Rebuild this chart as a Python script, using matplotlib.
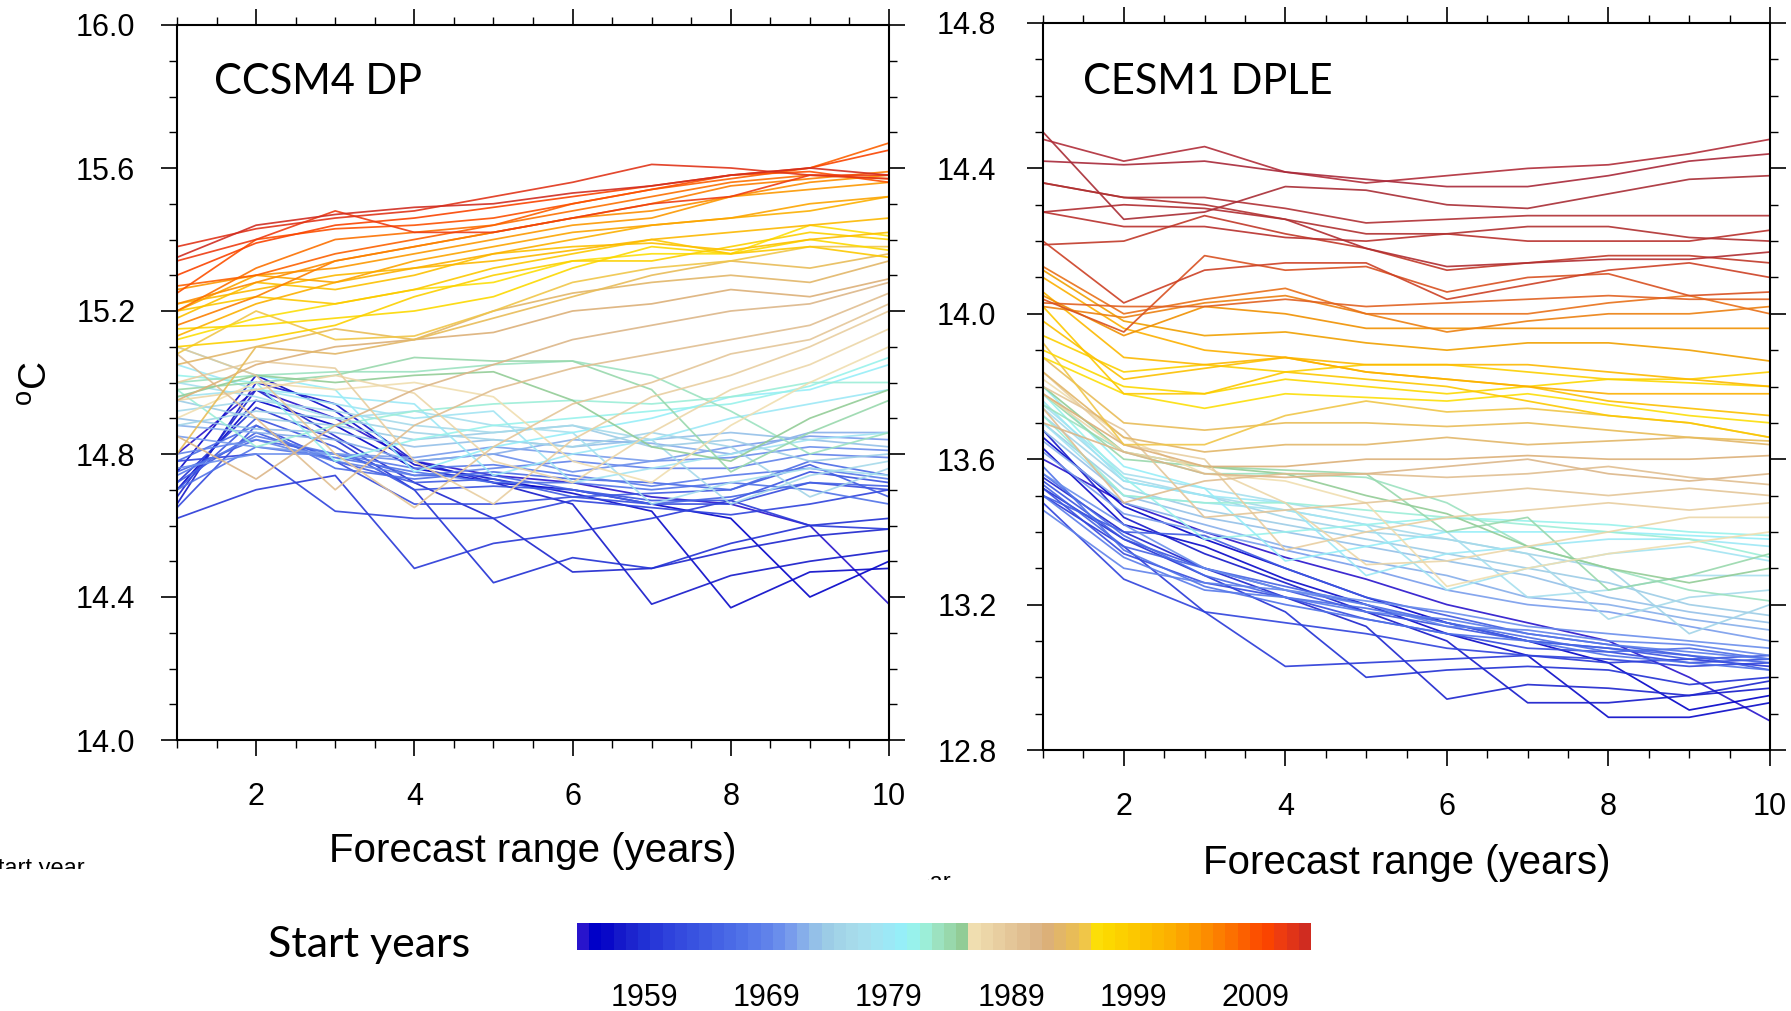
import matplotlib
matplotlib.use("Agg")
import matplotlib.pyplot as plt
import numpy as np
from matplotlib.colors import ListedColormap, BoundaryNorm
from matplotlib.cm import ScalarMappable
from matplotlib.transforms import Bbox, TransformedBbox

# ---------------- data ----------------
leads = [1, 2, 3, 4, 5, 6, 7, 8, 9, 10]

years_dp = list(range(1954, 2014))      # CCSM4 DP start years
years_dple = list(range(1954, 2018))    # CESM1 DPLE start years
cbar_years = list(range(1954, 2014))
cbar_labels = [1959, 1969, 1979, 1989, 1999, 2009]

year_colors = [
    "#2814cc", "#0000c8", "#0808c8", "#1418ca", "#1c24ce", "#2030d4", "#2838d8",
    "#2e42dc", "#344ade", "#3852e0", "#3e5ae2", "#4462e4", "#4a6ae6", "#5072e8",
    "#587aea", "#6082ea", "#6a8eec", "#789cec", "#86aeea", "#94c0e8", "#9ccce6",
    "#a2d4e8", "#a6daea", "#a6dfee", "#a2e4f2", "#9ce8f6", "#96eef8", "#98f2ec",
    "#9ceed8", "#9ce2c0", "#98d8ac", "#92cc96", "#f0deb0", "#ecd6a8", "#e8cea0",
    "#e4c698", "#e0be90", "#dcb688", "#dcb078", "#e2b668", "#e8bc58", "#f0c648",
    "#fcde08", "#fcd800", "#fcd000", "#fcc800", "#fcc000", "#fcb800", "#fcb000",
    "#fca400", "#fc9800", "#fc8c00", "#fc7e00", "#fc7000", "#fc6000", "#fc5000",
    "#fa4400", "#ee3c10", "#e03418", "#d02c20",
]

# line colours of the later CESM1 DPLE start years (2003-2017), darker reds
dple_late_colors = [
    "#f0a000", "#f09000", "#ec8010", "#e87018", "#e06020", "#d85020", "#cc4024",
    "#c03828", "#b8302c", "#b02c30", "#b03034", "#a82c34", "#b02c38", "#a82838",
    "#b03030",
]

ccsm4_dp = [
    [14.80, 14.98, 14.90, 14.78, 14.74, 14.72, 14.68, 14.66, 14.60, 14.38],  # 1954
    [14.70, 14.95, 14.88, 14.76, 14.72, 14.70, 14.66, 14.62, 14.40, 14.50],
    [14.75, 15.02, 14.92, 14.77, 14.73, 14.69, 14.64, 14.37, 14.47, 14.48],
    [14.66, 15.00, 14.94, 14.78, 14.72, 14.66, 14.38, 14.46, 14.50, 14.53],
    [14.68, 14.98, 14.85, 14.72, 14.62, 14.47, 14.48, 14.53, 14.57, 14.59],
    [14.72, 14.93, 14.84, 14.70, 14.44, 14.51, 14.48, 14.55, 14.60, 14.62],
    [14.62, 14.70, 14.74, 14.48, 14.55, 14.58, 14.62, 14.67, 14.60, 14.59],  # 1960
    [14.78, 14.80, 14.64, 14.62, 14.62, 14.67, 14.65, 14.63, 14.66, 14.70],
    [14.65, 14.88, 14.78, 14.66, 14.66, 14.68, 14.66, 14.66, 14.72, 14.70],
    [14.70, 14.90, 14.82, 14.70, 14.71, 14.70, 14.67, 14.67, 14.75, 14.72],
    [14.72, 14.86, 14.78, 14.72, 14.73, 14.68, 14.69, 14.70, 14.77, 14.68],
    [14.75, 14.84, 14.80, 14.74, 14.74, 14.70, 14.66, 14.68, 14.72, 14.71],
    [14.78, 14.88, 14.76, 14.73, 14.75, 14.73, 14.72, 14.70, 14.78, 14.74],
    [14.70, 14.82, 14.79, 14.75, 14.72, 14.72, 14.70, 14.72, 14.70, 14.66],
    [14.74, 14.85, 14.80, 14.76, 14.77, 14.74, 14.71, 14.74, 14.76, 14.73],
    [14.80, 14.84, 14.78, 14.74, 14.76, 14.78, 14.76, 14.76, 14.80, 14.79],
    [14.76, 14.80, 14.80, 14.78, 14.80, 14.75, 14.78, 14.79, 14.82, 14.81],  # 1970
    [14.85, 14.82, 14.80, 14.79, 14.82, 14.80, 14.78, 14.82, 14.85, 14.84],
    [14.88, 14.86, 14.84, 14.78, 14.80, 14.84, 14.83, 14.80, 14.86, 14.86],
    [14.90, 14.87, 14.86, 14.82, 14.84, 14.82, 14.84, 14.86, 14.84, 14.82],
    [14.95, 14.90, 14.88, 14.84, 14.86, 14.88, 14.82, 14.84, 14.78, 14.80],
    [14.88, 14.92, 14.90, 14.86, 14.84, 14.82, 14.86, 14.82, 14.68, 14.76],
    [14.92, 14.95, 14.92, 14.88, 14.86, 14.88, 14.84, 14.66, 14.74, 14.78],
    [15.00, 14.96, 14.90, 14.92, 14.88, 14.86, 14.66, 14.72, 14.76, 14.74],
    [14.96, 14.98, 14.94, 14.90, 14.92, 14.72, 14.76, 14.80, 14.84, 14.86],
    [15.05, 14.98, 14.96, 14.94, 14.74, 14.80, 14.84, 14.90, 14.94, 14.98],
    [15.10, 15.02, 14.98, 14.75, 14.82, 14.86, 14.90, 14.96, 14.98, 15.05],  # 1980
    [15.02, 15.00, 14.78, 14.84, 14.88, 14.90, 14.92, 14.94, 14.99, 15.07],
    [14.98, 14.82, 14.88, 14.92, 14.94, 14.95, 14.94, 14.96, 15.00, 15.00],
    [15.00, 15.02, 15.03, 15.03, 15.05, 15.06, 15.02, 14.92, 14.80, 14.86],
    [14.98, 15.00, 15.02, 15.07, 15.06, 15.06, 14.98, 14.75, 14.86, 14.95],
    [14.96, 15.02, 15.00, 15.02, 15.03, 14.95, 14.82, 14.78, 14.90, 14.98],
    [14.90, 15.00, 14.98, 15.00, 14.96, 14.78, 14.72, 14.88, 15.00, 15.10],
    [14.95, 14.98, 15.02, 14.97, 14.78, 14.72, 14.86, 14.98, 15.05, 15.15],
    [15.00, 15.06, 15.04, 14.78, 14.66, 14.84, 14.96, 15.02, 15.10, 15.20],
    [15.10, 15.02, 14.80, 14.65, 14.82, 14.94, 15.00, 15.08, 15.12, 15.22],
    [15.08, 14.90, 14.70, 14.88, 14.98, 15.04, 15.08, 15.12, 15.16, 15.25],  # 1990
    [14.85, 14.73, 14.88, 14.98, 15.05, 15.12, 15.16, 15.20, 15.22, 15.28],
    [14.95, 15.05, 15.10, 15.12, 15.14, 15.20, 15.22, 15.26, 15.24, 15.29],
    [15.05, 15.10, 15.08, 15.12, 15.20, 15.25, 15.28, 15.30, 15.28, 15.34],
    [14.80, 15.10, 15.15, 15.12, 15.18, 15.24, 15.30, 15.34, 15.32, 15.36],
    [15.08, 15.20, 15.12, 15.13, 15.20, 15.28, 15.32, 15.34, 15.38, 15.38],
    [15.12, 15.18, 15.22, 15.26, 15.28, 15.34, 15.36, 15.36, 15.44, 15.41],
    [15.15, 15.16, 15.18, 15.20, 15.24, 15.32, 15.38, 15.36, 15.40, 15.37],
    [15.10, 15.12, 15.16, 15.24, 15.30, 15.34, 15.34, 15.38, 15.42, 15.40],
    [15.20, 15.24, 15.22, 15.26, 15.32, 15.36, 15.40, 15.36, 15.38, 15.35],
    [15.18, 15.28, 15.26, 15.30, 15.36, 15.38, 15.39, 15.37, 15.40, 15.42],  # 2000
    [15.22, 15.26, 15.30, 15.32, 15.34, 15.37, 15.40, 15.42, 15.44, 15.46],
    [15.13, 15.22, 15.28, 15.32, 15.36, 15.40, 15.44, 15.46, 15.48, 15.52],
    [15.20, 15.30, 15.28, 15.34, 15.38, 15.42, 15.44, 15.46, 15.50, 15.52],
    [15.26, 15.30, 15.32, 15.36, 15.40, 15.44, 15.46, 15.52, 15.54, 15.56],
    [15.22, 15.28, 15.34, 15.38, 15.42, 15.46, 15.48, 15.52, 15.56, 15.58],
    [15.16, 15.24, 15.34, 15.38, 15.42, 15.46, 15.50, 15.55, 15.57, 15.59],
    [15.20, 15.32, 15.40, 15.42, 15.44, 15.48, 15.52, 15.56, 15.58, 15.57],
    [15.27, 15.30, 15.36, 15.40, 15.44, 15.50, 15.54, 15.57, 15.60, 15.67],
    [15.25, 15.40, 15.43, 15.44, 15.46, 15.50, 15.54, 15.58, 15.59, 15.56],
    [15.30, 15.39, 15.44, 15.46, 15.49, 15.52, 15.55, 15.58, 15.60, 15.65],  # 2010
    [15.34, 15.40, 15.48, 15.42, 15.42, 15.46, 15.50, 15.52, 15.58, 15.58],
    [15.38, 15.43, 15.46, 15.48, 15.52, 15.56, 15.61, 15.60, 15.58, 15.57],
    [15.35, 15.44, 15.47, 15.49, 15.50, 15.53, 15.55, 15.58, 15.60, 15.58],  # 2013
]

cesm1_dple = [
    [13.60, 13.48, 13.40, 13.33, 13.27, 13.20, 13.15, 13.10, 13.00, 12.88],  # 1954
    [13.66, 13.47, 13.38, 13.30, 13.22, 13.15, 13.10, 13.04, 12.91, 12.95],
    [13.63, 13.42, 13.36, 13.27, 13.20, 13.12, 13.06, 12.89, 12.89, 12.93],
    [13.68, 13.44, 13.34, 13.26, 13.18, 13.10, 12.93, 12.93, 12.95, 12.97],
    [13.55, 13.40, 13.30, 13.22, 13.14, 12.94, 12.98, 12.97, 12.95, 12.99],
    [13.52, 13.38, 13.28, 13.18, 13.00, 13.02, 13.03, 13.02, 12.98, 13.00],
    [13.50, 13.36, 13.18, 13.03, 13.04, 13.05, 13.06, 13.04, 13.05, 13.03],  # 1960
    [13.48, 13.27, 13.18, 13.15, 13.12, 13.08, 13.06, 13.05, 13.03, 13.04],
    [13.52, 13.34, 13.26, 13.22, 13.16, 13.12, 13.08, 13.07, 13.04, 13.05],
    [13.54, 13.38, 13.30, 13.24, 13.18, 13.14, 13.10, 13.08, 13.05, 13.06],
    [13.50, 13.40, 13.39, 13.30, 13.22, 13.17, 13.12, 13.09, 13.06, 13.02],
    [13.53, 13.36, 13.30, 13.25, 13.20, 13.15, 13.10, 13.08, 13.06, 13.04],
    [13.56, 13.39, 13.28, 13.22, 13.19, 13.15, 13.11, 13.07, 13.08, 13.05],
    [13.58, 13.35, 13.25, 13.20, 13.16, 13.12, 13.10, 13.06, 13.04, 13.02],
    [13.50, 13.33, 13.24, 13.22, 13.18, 13.16, 13.12, 13.09, 13.07, 13.05],
    [13.46, 13.30, 13.26, 13.24, 13.20, 13.14, 13.13, 13.10, 13.09, 13.06],
    [13.56, 13.42, 13.30, 13.24, 13.21, 13.18, 13.14, 13.12, 13.10, 13.08],  # 1970
    [13.62, 13.45, 13.40, 13.35, 13.30, 13.24, 13.20, 13.18, 13.14, 13.10],
    [13.65, 13.48, 13.42, 13.36, 13.32, 13.28, 13.22, 13.20, 13.16, 13.13],
    [13.68, 13.50, 13.44, 13.40, 13.36, 13.32, 13.28, 13.22, 13.18, 13.15],
    [13.70, 13.52, 13.46, 13.42, 13.38, 13.34, 13.30, 13.26, 13.20, 13.17],
    [13.72, 13.54, 13.50, 13.44, 13.40, 13.38, 13.34, 13.30, 13.12, 13.20],
    [13.74, 13.55, 13.50, 13.46, 13.42, 13.38, 13.34, 13.16, 13.22, 13.24],
    [13.75, 13.56, 13.52, 13.48, 13.44, 13.40, 13.22, 13.24, 13.28, 13.28],
    [13.70, 13.50, 13.48, 13.46, 13.42, 13.24, 13.30, 13.34, 13.36, 13.32],
    [13.76, 13.54, 13.50, 13.48, 13.28, 13.34, 13.36, 13.38, 13.38, 13.36],
    [13.80, 13.58, 13.52, 13.32, 13.36, 13.40, 13.40, 13.40, 13.39, 13.38],  # 1980
    [13.78, 13.55, 13.38, 13.40, 13.42, 13.44, 13.43, 13.42, 13.40, 13.39],
    [13.72, 13.50, 13.48, 13.48, 13.46, 13.44, 13.42, 13.40, 13.38, 13.33],
    [13.75, 13.62, 13.56, 13.56, 13.55, 13.48, 13.36, 13.30, 13.24, 13.21],
    [13.78, 13.60, 13.58, 13.57, 13.56, 13.40, 13.44, 13.24, 13.28, 13.34],
    [13.80, 13.62, 13.58, 13.56, 13.50, 13.45, 13.36, 13.30, 13.26, 13.30],
    [13.82, 13.66, 13.56, 13.54, 13.48, 13.25, 13.30, 13.34, 13.37, 13.40],
    [13.78, 13.62, 13.58, 13.48, 13.31, 13.32, 13.36, 13.40, 13.44, 13.44],
    [13.84, 13.64, 13.60, 13.35, 13.40, 13.44, 13.46, 13.48, 13.46, 13.48],
    [13.80, 13.68, 13.44, 13.46, 13.48, 13.50, 13.52, 13.50, 13.52, 13.50],
    [13.74, 13.48, 13.54, 13.56, 13.56, 13.55, 13.56, 13.58, 13.55, 13.53],  # 1990
    [13.70, 13.62, 13.56, 13.55, 13.56, 13.58, 13.60, 13.56, 13.54, 13.56],
    [13.78, 13.64, 13.58, 13.58, 13.60, 13.60, 13.61, 13.60, 13.60, 13.61],
    [13.84, 13.66, 13.62, 13.64, 13.64, 13.66, 13.64, 13.65, 13.66, 13.64],
    [13.88, 13.70, 13.68, 13.70, 13.70, 13.69, 13.70, 13.68, 13.66, 13.65],
    [13.92, 13.64, 13.64, 13.72, 13.76, 13.73, 13.74, 13.72, 13.70, 13.66],
    [13.88, 13.78, 13.74, 13.78, 13.77, 13.76, 13.78, 13.75, 13.72, 13.70],
    [13.90, 13.80, 13.78, 13.82, 13.80, 13.78, 13.80, 13.82, 13.81, 13.80],
    [13.94, 13.84, 13.86, 13.84, 13.86, 13.86, 13.84, 13.82, 13.82, 13.84],
    [14.02, 13.78, 13.78, 13.84, 13.82, 13.80, 13.76, 13.72, 13.70, 13.66],
    [13.98, 13.82, 13.85, 13.88, 13.84, 13.82, 13.80, 13.76, 13.74, 13.72],  # 2000
    [14.06, 13.88, 13.86, 13.88, 13.86, 13.86, 13.86, 13.84, 13.82, 13.80],
    [14.10, 13.96, 13.90, 13.88, 13.84, 13.82, 13.80, 13.78, 13.78, 13.78],
    [14.12, 13.98, 13.94, 13.95, 13.92, 13.90, 13.92, 13.92, 13.90, 13.87],
    [14.05, 13.94, 14.02, 14.00, 13.96, 13.96, 13.96, 13.96, 13.96, 13.96],
    [14.02, 13.99, 14.03, 14.05, 14.00, 13.95, 13.98, 14.00, 14.00, 14.02],
    [14.13, 14.00, 14.04, 14.07, 14.00, 14.00, 14.00, 14.03, 14.05, 14.00],
    [14.03, 14.02, 14.02, 14.04, 14.02, 14.03, 14.04, 14.05, 14.04, 14.04],
    [14.04, 13.95, 14.16, 14.12, 14.13, 14.06, 14.10, 14.11, 14.05, 14.06],
    [14.20, 14.03, 14.12, 14.14, 14.14, 14.04, 14.08, 14.12, 14.14, 14.10],
    [14.19, 14.20, 14.27, 14.22, 14.18, 14.12, 14.14, 14.16, 14.16, 14.14],  # 2010
    [14.28, 14.24, 14.24, 14.21, 14.20, 14.22, 14.20, 14.20, 14.20, 14.23],
    [14.28, 14.30, 14.29, 14.26, 14.18, 14.13, 14.14, 14.15, 14.15, 14.17],
    [14.36, 14.32, 14.32, 14.29, 14.25, 14.26, 14.27, 14.27, 14.27, 14.27],
    [14.50, 14.26, 14.28, 14.35, 14.34, 14.30, 14.29, 14.33, 14.37, 14.38],
    [14.48, 14.42, 14.46, 14.39, 14.36, 14.38, 14.40, 14.41, 14.44, 14.48],
    [14.42, 14.41, 14.42, 14.39, 14.37, 14.35, 14.35, 14.38, 14.42, 14.44],
    [14.36, 14.32, 14.30, 14.26, 14.22, 14.22, 14.24, 14.24, 14.21, 14.20],  # 2017
]

# ---------------- style ----------------
W, H = 1791, 1011
plt.rcParams['font.family'] = ['Liberation Sans', 'DejaVu Sans']
plt.rcParams['mathtext.fontset'] = 'custom'
plt.rcParams['mathtext.rm'] = 'Liberation Sans'
TITLE_FONT = ['Lato', 'DejaVu Sans']

fig = plt.figure(figsize=(W / 100, H / 100), dpi=100)
fig.patch.set_facecolor('white')


def px_axes(x0, y0, x1, y1):
    return fig.add_axes([x0 / W, 1 - y1 / H, (x1 - x0) / W, (y1 - y0) / H])


def dp_color(year):
    return year_colors[year - 1954]


def dple_color(year):
    if year >= 2003:
        return dple_late_colors[year - 2003]
    return year_colors[year - 1954]


def style_axes(ax, ylo, yhi, ypad):
    ax.set_xlim(1, 10)
    ax.set_ylim(ylo, yhi)
    ax.set_xticks([2, 4, 6, 8, 10])
    ax.set_xticks(np.arange(1, 10.01, 0.5), minor=True)
    ax.set_yticks(np.round(np.arange(ylo, yhi + 0.001, 0.4), 1))
    ax.set_yticks(np.round(np.arange(ylo, yhi + 0.001, 0.1), 1), minor=True)
    ax.yaxis.set_major_formatter(matplotlib.ticker.FormatStrFormatter('%.1f'))
    ax.tick_params(which='both', direction='out', top=True, right=True,
                   labeltop=False, labelright=False, colors='black')
    ax.tick_params(which='major', length=11.5, width=1.2, labelsize=22)
    ax.tick_params(which='minor', length=5.5, width=1.0)
    ax.tick_params(axis='x', which='major', pad=19)
    ax.tick_params(axis='y', which='major', pad=ypad)
    for s in ax.spines.values():
        s.set_linewidth(1.5)
    ax.set_xlabel('Forecast range (years)', fontsize=29)
    ax.xaxis.label.set_va('baseline')
    ax.xaxis.set_label_coords(0.5, -0.1706)


ax1 = px_axes(177, 25, 889, 740)
for yr, vals in zip(years_dp, ccsm4_dp):
    ax1.plot(leads, vals, color=dp_color(yr), lw=1.25, alpha=0.9)
style_axes(ax1, 14.0, 16.0, 18.5)
ax1.text(0.052, 0.9035, 'CCSM4 DP', transform=ax1.transAxes, fontsize=30,
         family=TITLE_FONT, ha='left', va='baseline')

ax2 = px_axes(1043, 23, 1770, 750)
for yr, vals in zip(years_dple, cesm1_dple):
    ax2.plot(leads, vals, color=dple_color(yr), lw=1.25, alpha=0.9)
style_axes(ax2, 12.8, 14.8, 22)
ax2.text(0.055, 0.902, 'CESM1 DPLE', transform=ax2.transAxes, fontsize=30,
         family=TITLE_FONT, ha='left', va='baseline')

fig.text(37 / W, 1 - 383 / H, r'$\mathregular{^o}$C', rotation=90, fontsize=28,
         ha='center', va='center')

# colour bar
cax = px_axes(577, 923, 1311, 950)
cmap = ListedColormap(year_colors[:len(cbar_years)])
norm = BoundaryNorm(np.arange(cbar_years[0] - 0.5, cbar_years[-1] + 1.0, 1.0), cmap.N)
cb = fig.colorbar(ScalarMappable(norm=norm, cmap=cmap), cax=cax,
                  orientation='horizontal', ticks=cbar_labels)
cb.outline.set_visible(False)
cb.ax.minorticks_off()
cb.ax.tick_params(which='both', length=0, labelsize=22, pad=24)
cb.ax.set_xticklabels([str(v) for v in cbar_labels])

fig.text(268 / W, 1 - 957 / H, 'Start years', fontsize=31, family=TITLE_FONT,
         ha='left', va='baseline')

# clipped fragments of labels at the edges of the original panels
t1 = fig.text(-18 / W, 1 - 875 / H, 'Start year', fontsize=17, ha='left',
              va='baseline')
t1.set_clip_box(TransformedBbox(Bbox([[0, 1 - 869 / H], [1, 1]]), fig.transFigure))
t1.set_clip_on(True)
t2 = fig.text(951 / W, 1 - 889 / H, 'Start year', fontsize=17, ha='right',
              va='baseline')
t2.set_clip_box(TransformedBbox(Bbox([[928 / W, 1 - 880 / H], [960 / W, 1 - 870 / H]]),
                                fig.transFigure))
t2.set_clip_on(True)

fig.savefig('out.png', dpi=100, facecolor='white')
